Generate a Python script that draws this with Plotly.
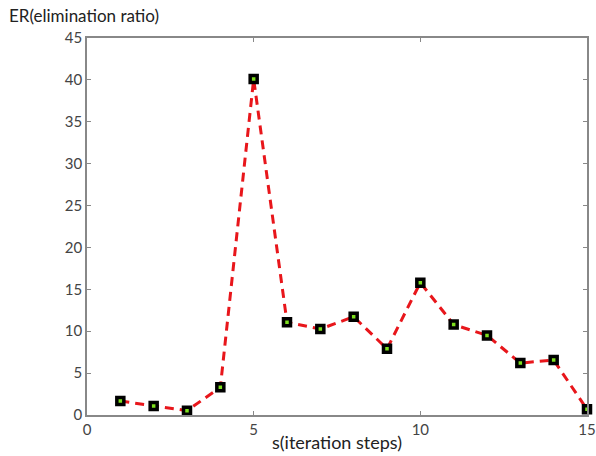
import plotly.graph_objects as go

steps = list(range(1, 16))
er = [1.67, 1.07, 0.52, 3.3, 40.1, 11.06, 10.26, 11.73, 7.9, 15.8, 10.8, 9.5, 6.2, 6.56, 0.68]
x_ticks = [0, 5, 10, 15]
y_ticks = [0, 5, 10, 15, 20, 25, 30, 35, 40, 45]

fig = go.Figure()
fig.add_trace(go.Scatter(
    x=steps, y=er, mode="lines+markers",
    line=dict(color="#e8161b", width=3, dash="9px,6px"),
    marker=dict(symbol="square", size=7, color="#7ee01e",
                line=dict(color="black", width=3.5)),
    cliponaxis=False, showlegend=False,
))

axis_common = dict(
    showgrid=False, zeroline=False, showline=True, linecolor="#888888",
    linewidth=1.5, mirror="ticks", ticks="inside", ticklen=4, automargin=False,
    ticklabeloverflow="allow",
    tickcolor="#888888", tickfont=dict(family="Lato, Open Sans, sans-serif", size=15, color="#444444"),
)
fig.update_xaxes(range=[0, 15], tickvals=x_ticks, **axis_common,
                 title=dict(text="s(iteration steps)", standoff=0,
                            font=dict(family="Lato, Open Sans, sans-serif", size=18, color="#222222")))
fig.update_yaxes(range=[0, 45], tickvals=y_ticks, **axis_common)

fig.add_annotation(text="ER(elimination ratio)", xref="paper", yref="paper",
                   x=-0.16, y=1.0, xanchor="left", yanchor="bottom", yshift=10,
                   showarrow=False,
                   font=dict(family="Lato, Open Sans, sans-serif", size=17, color="#222222"))

fig.update_layout(
    width=596, height=456,
    margin=dict(l=87, r=9, t=38, b=41),
    plot_bgcolor="white", paper_bgcolor="white",
)
fig.write_html("out.html")
